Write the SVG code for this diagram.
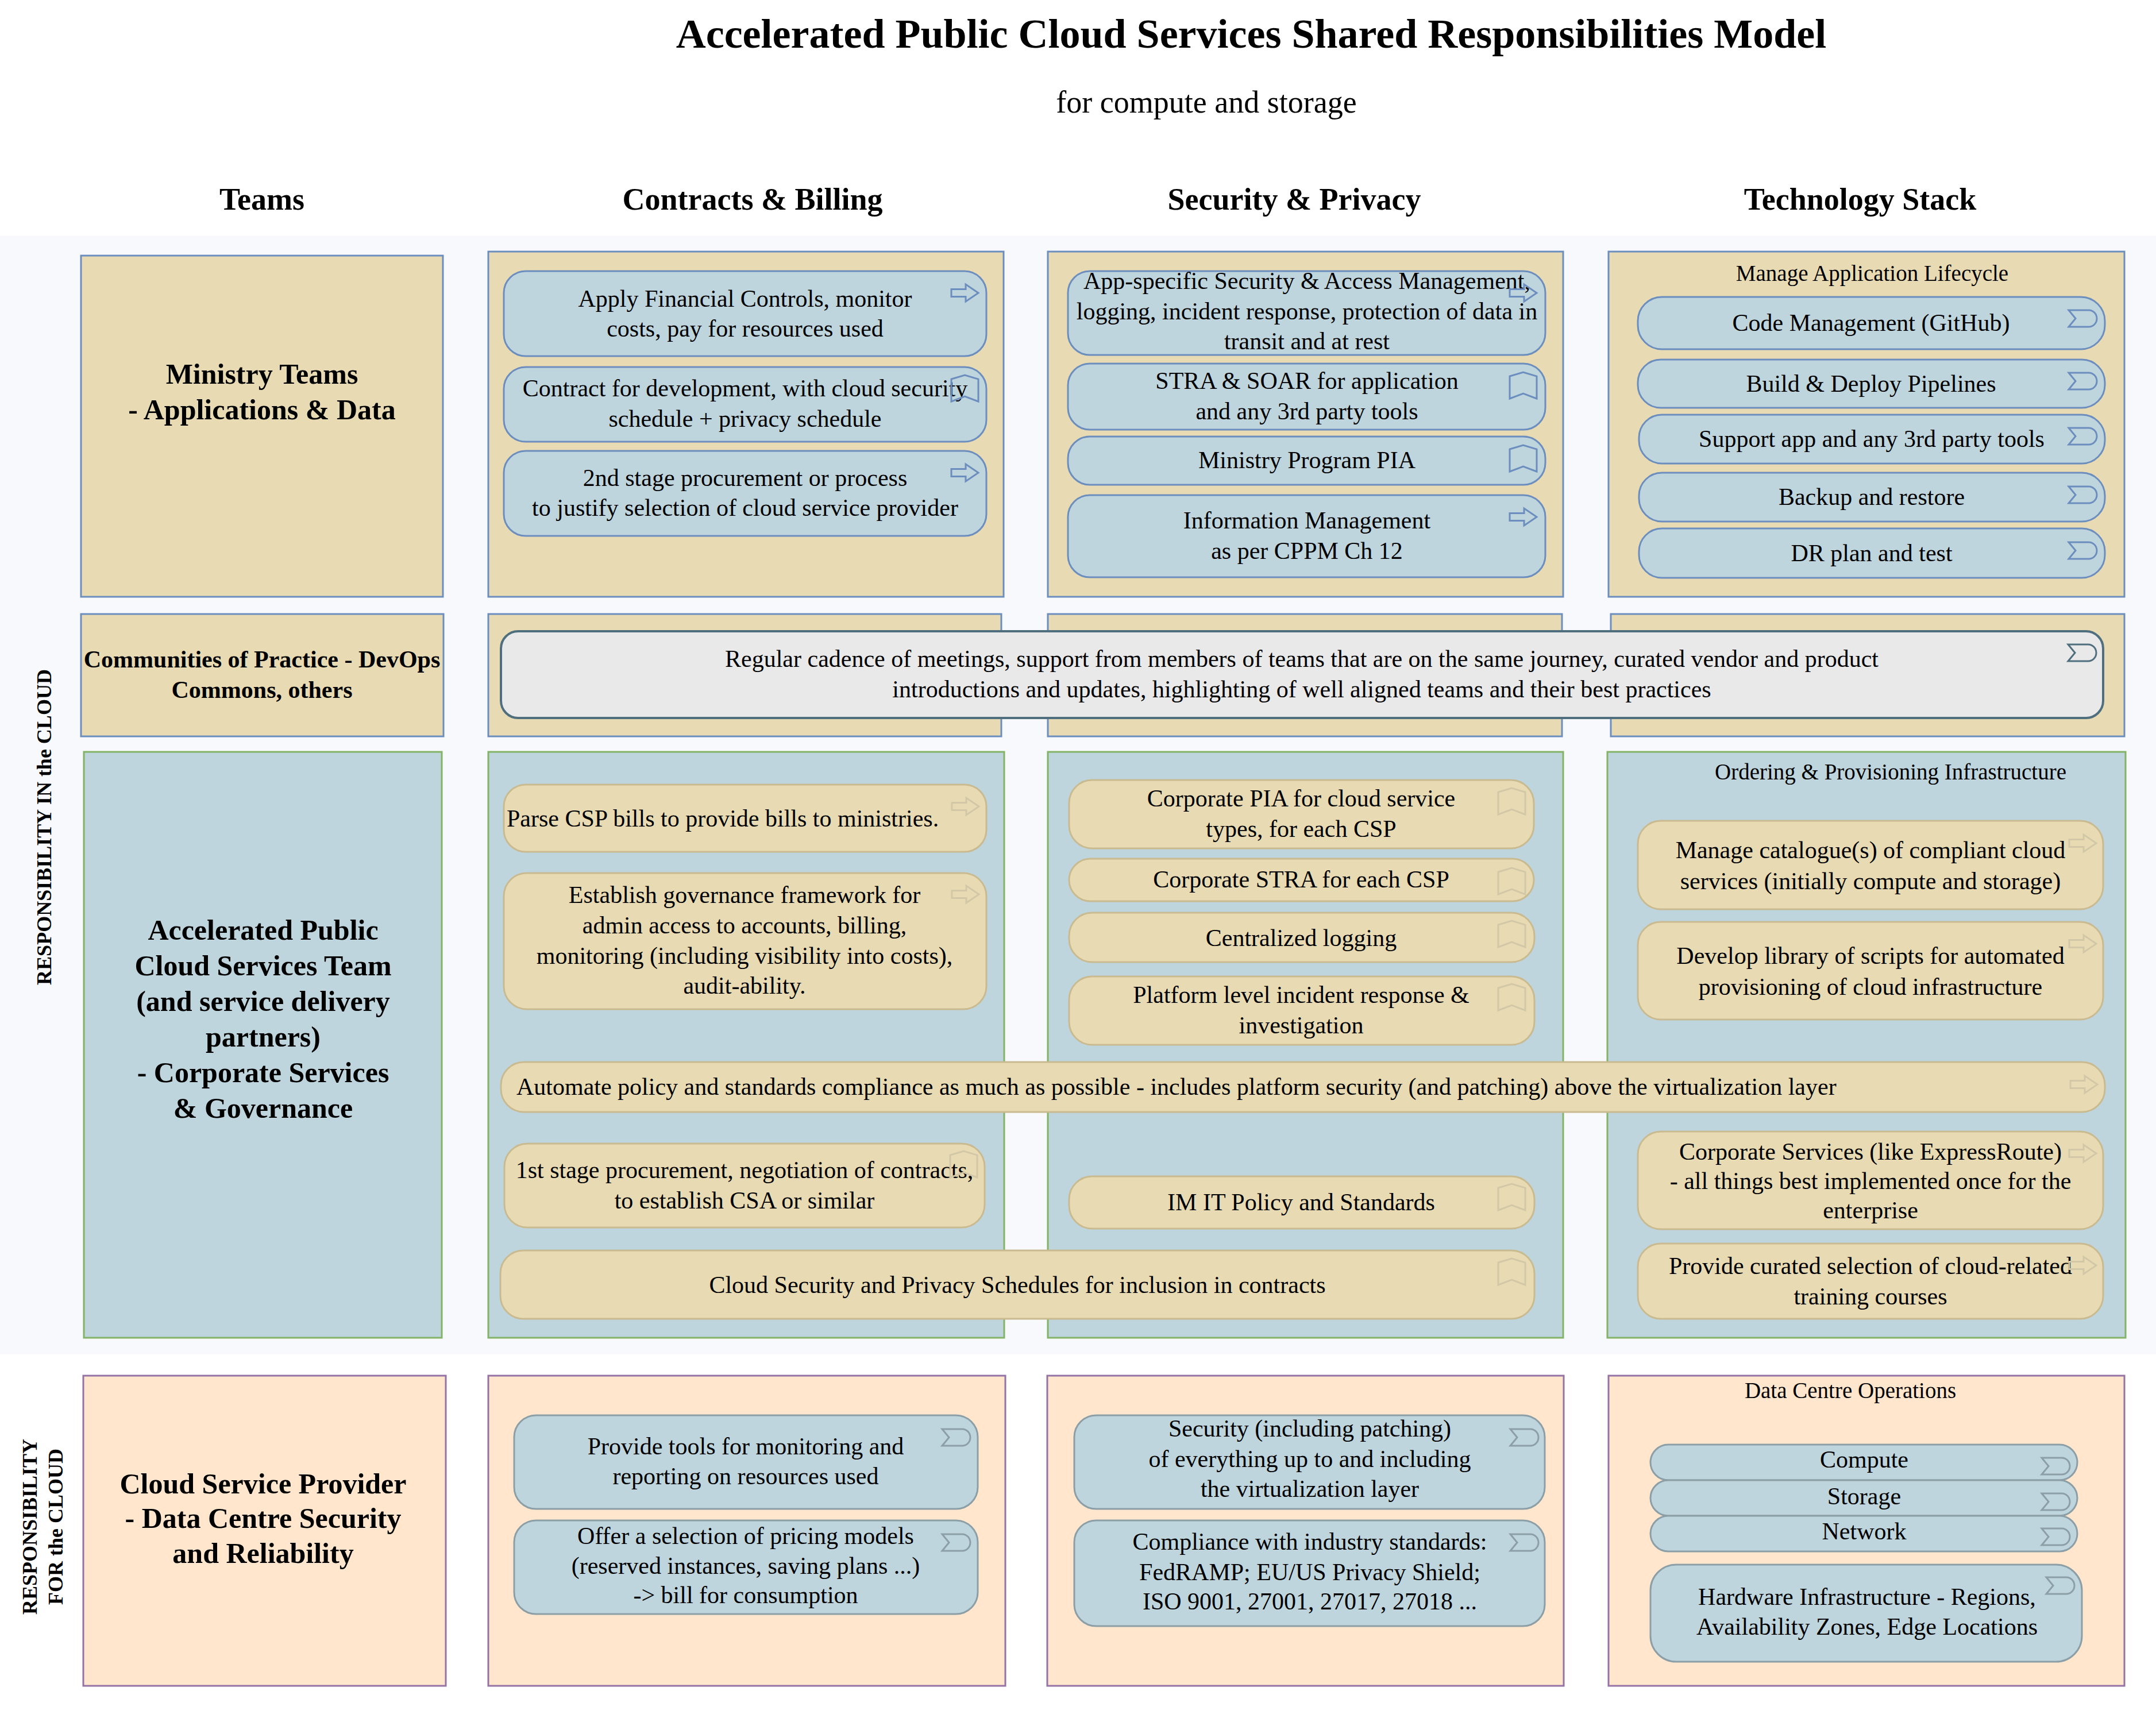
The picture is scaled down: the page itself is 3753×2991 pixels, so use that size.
<svg xmlns="http://www.w3.org/2000/svg" xmlns:xlink="http://www.w3.org/1999/xlink" width="3753" height="2991" viewBox="0 0 3753 2991">
<style>
text{font-family:"Liberation Serif","Times New Roman",serif;fill:#000;font-size:42px}
.c{text-anchor:middle}
.b{font-weight:bold}
.h39{font-size:39px}
.lb{font-size:50px;font-weight:bold}
.lane-tan{fill:#e8dbb3;stroke:#6c8ebf;stroke-width:3}
.lane-blue{fill:#bfd5dd;stroke:#82b366;stroke-width:3}
.lane-peach{fill:#ffe6cc;stroke:#9673a6;stroke-width:3}
.item-blue{fill:#bfd5dd;stroke:#6c8ebf;stroke-width:3}
.item-tan{fill:#e8dbb3;stroke:#c9ba90;stroke-width:3}
.item-grey{fill:#bfd5dd;stroke:#8c9fa7;stroke-width:3}
.item-wide{fill:#e9e9e9;stroke:#4f6f7f;stroke-width:4}
.ico{fill:none;stroke-width:3}
.i1{stroke:#6c8ebf}
.i3{stroke:#d2c8a8}
.i4{stroke:#8c9fa7}
.i2{stroke:#4f6f7f}
</style>
<defs>
<path id="arrow" d="M0,8.5 H25 V0 L47,15 L25,30 V21.5 H0 Z"/>
<path id="bookmark" d="M0,7 L23.5,0 L47,7 V46 L23.5,37 L0,46 Z"/>
<path id="step" d="M0,0 H35 A14,14.5 0 0 1 35,29 H0 L12,14.5 Z"/>
</defs>
<rect x="0" y="0" width="3753" height="2991" fill="#ffffff"/>
<rect x="0" y="410" width="3753" height="1948" fill="#f7f9fd"/>

<g id="title">
<text class="c b" x="2178" y="83" style="font-size:72px">Accelerated Public Cloud Services Shared Responsibilities Model</text>
<text class="c" x="2100" y="196" style="font-size:54px">for compute and storage</text>
</g>
<g id="column-headers" class="b" style="font-size:54px">
<text class="c b" x="456" y="365" style="font-size:54px">Teams</text>
<text class="c b" x="1310" y="365" style="font-size:54px">Contracts &amp; Billing</text>
<text class="c b" x="2253" y="365" style="font-size:54px">Security &amp; Privacy</text>
<text class="c b" x="3238" y="365" style="font-size:54px">Technology Stack</text>
</g>
<g id="side-labels">
<text class="c b" style="font-size:36px" transform="translate(89,1440) rotate(-90)">RESPONSIBILITY IN the CLOUD</text>
<text class="c b" style="font-size:36px" transform="translate(64,2658) rotate(-90)">RESPONSIBILITY</text>
<text class="c b" style="font-size:36px" transform="translate(109,2658) rotate(-90)">FOR the CLOUD</text>
</g>

<!-- Row 1: Ministry Teams -->
<g id="ministry-teams">
<rect class="lane-tan" x="141" y="445" width="630" height="594"/>
<text class="c lb" x="456" y="668">Ministry Teams</text>
<text class="c lb" x="456" y="730">- Applications &amp; Data</text>
</g>
<g id="ministry-contracts">
<rect class="lane-tan" x="850" y="438" width="897" height="601"/>
</g>
<g id="mc-financial">
<rect class="item-blue" x="877" y="472" width="840" height="148" rx="38"/>
<text class="c" x="1297" y="534">Apply Financial Controls, monitor</text>
<text class="c" x="1297" y="586">costs, pay for resources used</text>
<use href="#arrow" x="1656" y="495" class="ico i1"/>
</g>
<g id="mc-contract-dev">
<rect class="item-blue" x="877" y="639" width="840" height="130" rx="38"/>
<text class="c" x="1297" y="690">Contract for development, with cloud security</text>
<text class="c" x="1297" y="743">schedule + privacy schedule</text>
<use href="#bookmark" x="1656" y="653" class="ico i1"/>
</g>
<g id="mc-2nd-stage">
<rect class="item-blue" x="877" y="785" width="840" height="148" rx="38"/>
<text class="c" x="1297" y="846">2nd stage procurement or process</text>
<text class="c" x="1297" y="898">to justify selection of cloud service provider</text>
<use href="#arrow" x="1656" y="808" class="ico i1"/>
</g>

<g id="ministry-security">
<rect class="lane-tan" x="1824" y="438" width="897" height="601"/>
</g>
<g id="ms-app-security">
<rect class="item-blue" x="1859" y="472" width="831" height="146" rx="38"/>
<text class="c" x="2275" y="503">App-specific Security &amp; Access Management,</text>
<text class="c" x="2275" y="556">logging, incident response, protection of data in</text>
<text class="c" x="2275" y="608">transit and at rest</text>
<use href="#arrow" x="2628" y="495" class="ico i1"/>
</g>
<g id="ms-stra-soar">
<rect class="item-blue" x="1859" y="633" width="831" height="115" rx="38"/>
<text class="c" x="2275" y="677">STRA &amp; SOAR for application</text>
<text class="c" x="2275" y="730">and any 3rd party tools</text>
<use href="#bookmark" x="2628" y="648" class="ico i1"/>
</g>
<g id="ms-pia">
<rect class="item-blue" x="1859" y="760" width="831" height="84" rx="38"/>
<text class="c" x="2275" y="815">Ministry Program PIA</text>
<use href="#bookmark" x="2628" y="775" class="ico i1"/>
</g>
<g id="ms-info-mgmt">
<rect class="item-blue" x="1859" y="862" width="831" height="143" rx="38"/>
<text class="c" x="2275" y="920">Information Management</text>
<text class="c" x="2275" y="973">as per CPPM Ch 12</text>
<use href="#arrow" x="2628" y="885" class="ico i1"/>
</g>

<g id="ministry-tech">
<rect class="lane-tan" x="2800" y="438" width="898" height="601"/>
<text class="c h39" x="3259" y="489">Manage Application Lifecycle</text>
</g>
<g id="mt-code">
<rect class="item-blue" x="2851" y="517" width="813" height="91" rx="42"/>
<text class="c" x="3257" y="576">Code Management (GitHub)</text>
<use href="#step" x="3601" y="540" class="ico i1"/>
</g>
<g id="mt-build">
<rect class="item-blue" x="2851" y="626" width="813" height="84" rx="40"/>
<text class="c" x="3257" y="682">Build &amp; Deploy Pipelines</text>
<use href="#step" x="3601" y="649" class="ico i1"/>
</g>
<g id="mt-support">
<rect class="item-blue" x="2853" y="722" width="811" height="85" rx="40"/>
<text class="c" x="3258" y="778">Support app and any 3rd party tools</text>
<use href="#step" x="3601" y="745" class="ico i1"/>
</g>
<g id="mt-backup">
<rect class="item-blue" x="2853" y="823" width="811" height="85" rx="40"/>
<text class="c" x="3258" y="879">Backup and restore</text>
<use href="#step" x="3601" y="847" class="ico i1"/>
</g>
<g id="mt-dr">
<rect class="item-blue" x="2853" y="920" width="811" height="86" rx="40"/>
<text class="c" x="3258" y="977">DR plan and test</text>
<use href="#step" x="3601" y="944" class="ico i1"/>
</g>

<!-- Row 2: Communities -->
<g id="communities">
<rect class="lane-tan" x="141" y="1069" width="631" height="213"/>
<text class="c b" x="456" y="1162">Communities of Practice - DevOps</text>
<text class="c b" x="456" y="1215">Commons, others</text>
</g>
<g id="communities-contracts"><rect class="lane-tan" x="850" y="1069" width="893" height="213"/></g>
<g id="communities-security"><rect class="lane-tan" x="1824" y="1069" width="895" height="213"/></g>
<g id="communities-tech"><rect class="lane-tan" x="2804" y="1069" width="894" height="213"/></g>
<g id="communities-support">
<rect class="item-wide" x="872" y="1099" width="2789" height="151" rx="30"/>
<text class="c" x="2266" y="1161">Regular cadence of meetings, support from members of teams that are on the same journey, curated vendor and product</text>
<text class="c" x="2266" y="1214">introductions and updates, highlighting of well aligned teams and their best practices</text>
<use href="#step" x="3600" y="1122" class="ico i2"/>
</g>

<!-- Row 3: APCS Team -->
<g id="apcs-team">
<rect class="lane-blue" x="146" y="1309" width="623" height="1020"/>
<text class="c lb" x="458" y="1636">Accelerated Public</text>
<text class="c lb" x="458" y="1698">Cloud Services Team</text>
<text class="c lb" x="458" y="1760">(and service delivery</text>
<text class="c lb" x="458" y="1822">partners)</text>
<text class="c lb" x="458" y="1884">- Corporate Services</text>
<text class="c lb" x="458" y="1946">&amp; Governance</text>
</g>
<g id="apcs-contracts"><rect class="lane-blue" x="850" y="1309" width="898" height="1020"/></g>
<g id="apcs-security"><rect class="lane-blue" x="1824" y="1309" width="897" height="1020"/></g>
<g id="apcs-tech">
<rect class="lane-blue" x="2798" y="1309" width="902" height="1020"/>
<text class="c h39" x="3291" y="1357">Ordering &amp; Provisioning Infrastructure</text>
</g>

<g id="ac-parse">
<rect class="item-tan" x="877" y="1366" width="840" height="117" rx="38"/>
<text x="882" y="1439">Parse CSP bills to provide bills to ministries.</text>
<use href="#arrow" x="1657" y="1389" class="ico i3"/>
</g>
<g id="ac-governance">
<rect class="item-tan" x="877" y="1520" width="840" height="237" rx="40"/>
<text class="c" x="1296" y="1572">Establish governance framework for</text>
<text class="c" x="1296" y="1625">admin access to accounts, billing,</text>
<text class="c" x="1296" y="1678">monitoring (including visibility into costs),</text>
<text class="c" x="1296" y="1730">audit-ability.</text>
<use href="#arrow" x="1657" y="1542" class="ico i3"/>
</g>
<g id="ac-1st-stage">
<rect class="item-tan" x="878" y="1991" width="836" height="146" rx="40"/>
<text class="c" x="1296" y="2051">1st stage procurement, negotiation of contracts,</text>
<text class="c" x="1296" y="2104">to establish CSA or similar</text>
<use href="#bookmark" x="1654" y="2004" class="ico i3"/>
</g>

<g id="as-corp-pia">
<rect class="item-tan" x="1861" y="1358" width="809" height="119" rx="40"/>
<text class="c" x="2265" y="1404">Corporate PIA for cloud service</text>
<text class="c" x="2265" y="1457">types, for each CSP</text>
<use href="#bookmark" x="2608" y="1372" class="ico i3"/>
</g>
<g id="as-corp-stra">
<rect class="item-tan" x="1861" y="1495" width="809" height="74" rx="37"/>
<text class="c" x="2265" y="1545">Corporate STRA for each CSP</text>
<use href="#bookmark" x="2608" y="1511" class="ico i3"/>
</g>
<g id="as-logging">
<rect class="item-tan" x="1861" y="1589" width="810" height="86" rx="40"/>
<text class="c" x="2265" y="1647">Centralized logging</text>
<use href="#bookmark" x="2608" y="1603" class="ico i3"/>
</g>
<g id="as-incident">
<rect class="item-tan" x="1861" y="1700" width="810" height="119" rx="40"/>
<text class="c" x="2265" y="1746">Platform level incident response &amp;</text>
<text class="c" x="2265" y="1799">investigation</text>
<use href="#bookmark" x="2608" y="1713" class="ico i3"/>
</g>
<g id="as-imit">
<rect class="item-tan" x="1861" y="2048" width="810" height="91" rx="40"/>
<text class="c" x="2265" y="2107">IM IT Policy and Standards</text>
<use href="#bookmark" x="2608" y="2061" class="ico i3"/>
</g>

<g id="at-catalogue">
<rect class="item-tan" x="2851" y="1429" width="810" height="154" rx="40"/>
<text class="c" x="3256" y="1494">Manage catalogue(s) of compliant cloud</text>
<text class="c" x="3256" y="1548">services (initially compute and storage)</text>
<use href="#arrow" x="3602" y="1453" class="ico i3"/>
</g>
<g id="at-scripts">
<rect class="item-tan" x="2851" y="1605" width="810" height="170" rx="40"/>
<text class="c" x="3256" y="1678">Develop library of scripts for automated</text>
<text class="c" x="3256" y="1732">provisioning of cloud infrastructure</text>
<use href="#arrow" x="3602" y="1628" class="ico i3"/>
</g>
<g id="at-corp-services">
<rect class="item-tan" x="2851" y="1970" width="810" height="170" rx="40"/>
<text class="c" x="3256" y="2019">Corporate Services (like ExpressRoute)</text>
<text class="c" x="3256" y="2070">- all things best implemented once for the</text>
<text class="c" x="3256" y="2121">enterprise</text>
<use href="#arrow" x="3602" y="1993" class="ico i3"/>
</g>
<g id="at-training">
<rect class="item-tan" x="2851" y="2165" width="810" height="131" rx="40"/>
<text class="c" x="3256" y="2218">Provide curated selection of cloud-related</text>
<text class="c" x="3256" y="2271">training courses</text>
<use href="#arrow" x="3602" y="2188" class="ico i3"/>
</g>

<g id="a-automate">
<rect class="item-tan" x="872" y="1849" width="2792" height="87" rx="40"/>
<text x="899" y="1906">Automate policy and standards compliance as much as possible - includes platform security (and patching) above the virtualization layer</text>
<use href="#arrow" x="3604" y="1873" class="ico i3"/>
</g>
<g id="a-schedules">
<rect class="item-tan" x="871" y="2177" width="1800" height="119" rx="40"/>
<text class="c" x="1771" y="2251">Cloud Security and Privacy Schedules for inclusion in contracts</text>
<use href="#bookmark" x="2608" y="2191" class="ico i3"/>
</g>

<!-- Row 4: Cloud Service Provider -->
<g id="csp-team">
<rect class="lane-peach" x="145" y="2395" width="631" height="540"/>
<text class="c lb" x="458" y="2600">Cloud Service Provider</text>
<text class="c lb" x="458" y="2660">- Data Centre Security</text>
<text class="c lb" x="458" y="2721">and Reliability</text>
</g>
<g id="csp-contracts"><rect class="lane-peach" x="850" y="2395" width="900" height="540"/></g>
<g id="csp-security"><rect class="lane-peach" x="1823" y="2395" width="899" height="540"/></g>
<g id="csp-tech">
<rect class="lane-peach" x="2800" y="2395" width="898" height="540"/>
<text class="c h39" x="3221" y="2434">Data Centre Operations</text>
</g>

<g id="cc-tools">
<rect class="item-grey" x="895" y="2464" width="807" height="163" rx="38"/>
<text class="c" x="1298" y="2532">Provide tools for monitoring and</text>
<text class="c" x="1298" y="2584">reporting on resources used</text>
<use href="#step" x="1640" y="2488" class="ico i4"/>
</g>
<g id="cc-pricing">
<rect class="item-grey" x="895" y="2647" width="807" height="163" rx="38"/>
<text class="c" x="1298" y="2688">Offer a selection of pricing models</text>
<text class="c" x="1298" y="2740">(reserved instances, saving plans ...)</text>
<text class="c" x="1298" y="2791">-&gt; bill for consumption</text>
<use href="#step" x="1640" y="2671" class="ico i4"/>
</g>
<g id="cs-patching">
<rect class="item-grey" x="1870" y="2464" width="819" height="163" rx="38"/>
<text class="c" x="2280" y="2501">Security (including patching)</text>
<text class="c" x="2280" y="2554">of everything up to and including</text>
<text class="c" x="2280" y="2606">the virtualization layer</text>
<use href="#step" x="2629" y="2488" class="ico i4"/>
</g>
<g id="cs-compliance">
<rect class="item-grey" x="1870" y="2647" width="819" height="184" rx="38"/>
<text class="c" x="2280" y="2698">Compliance with industry standards:</text>
<text class="c" x="2280" y="2751">FedRAMP; EU/US Privacy Shield;</text>
<text class="c" x="2280" y="2802">ISO 9001, 27001, 27017, 27018 ...</text>
<use href="#step" x="2629" y="2671" class="ico i4"/>
</g>
<g id="ct-compute">
<rect class="item-grey" x="2873" y="2515" width="743" height="62" rx="31"/>
<text class="c" x="3245" y="2555">Compute</text>
<use href="#step" x="3554" y="2538" class="ico i4"/>
</g>
<g id="ct-storage">
<rect class="item-grey" x="2873" y="2577" width="743" height="62" rx="31"/>
<text class="c" x="3245" y="2619">Storage</text>
<use href="#step" x="3554" y="2600" class="ico i4"/>
</g>
<g id="ct-network">
<rect class="item-grey" x="2873" y="2639" width="743" height="62" rx="31"/>
<text class="c" x="3245" y="2680">Network</text>
<use href="#step" x="3554" y="2661" class="ico i4"/>
</g>
<g id="ct-hardware">
<rect class="item-grey" x="2873" y="2724" width="751" height="169" rx="45"/>
<text class="c" x="3250" y="2794">Hardware Infrastructure - Regions,</text>
<text class="c" x="3250" y="2846">Availability Zones, Edge Locations</text>
<use href="#step" x="3562" y="2746" class="ico i4"/>
</g>

<g id="connectors"/>
</svg>
